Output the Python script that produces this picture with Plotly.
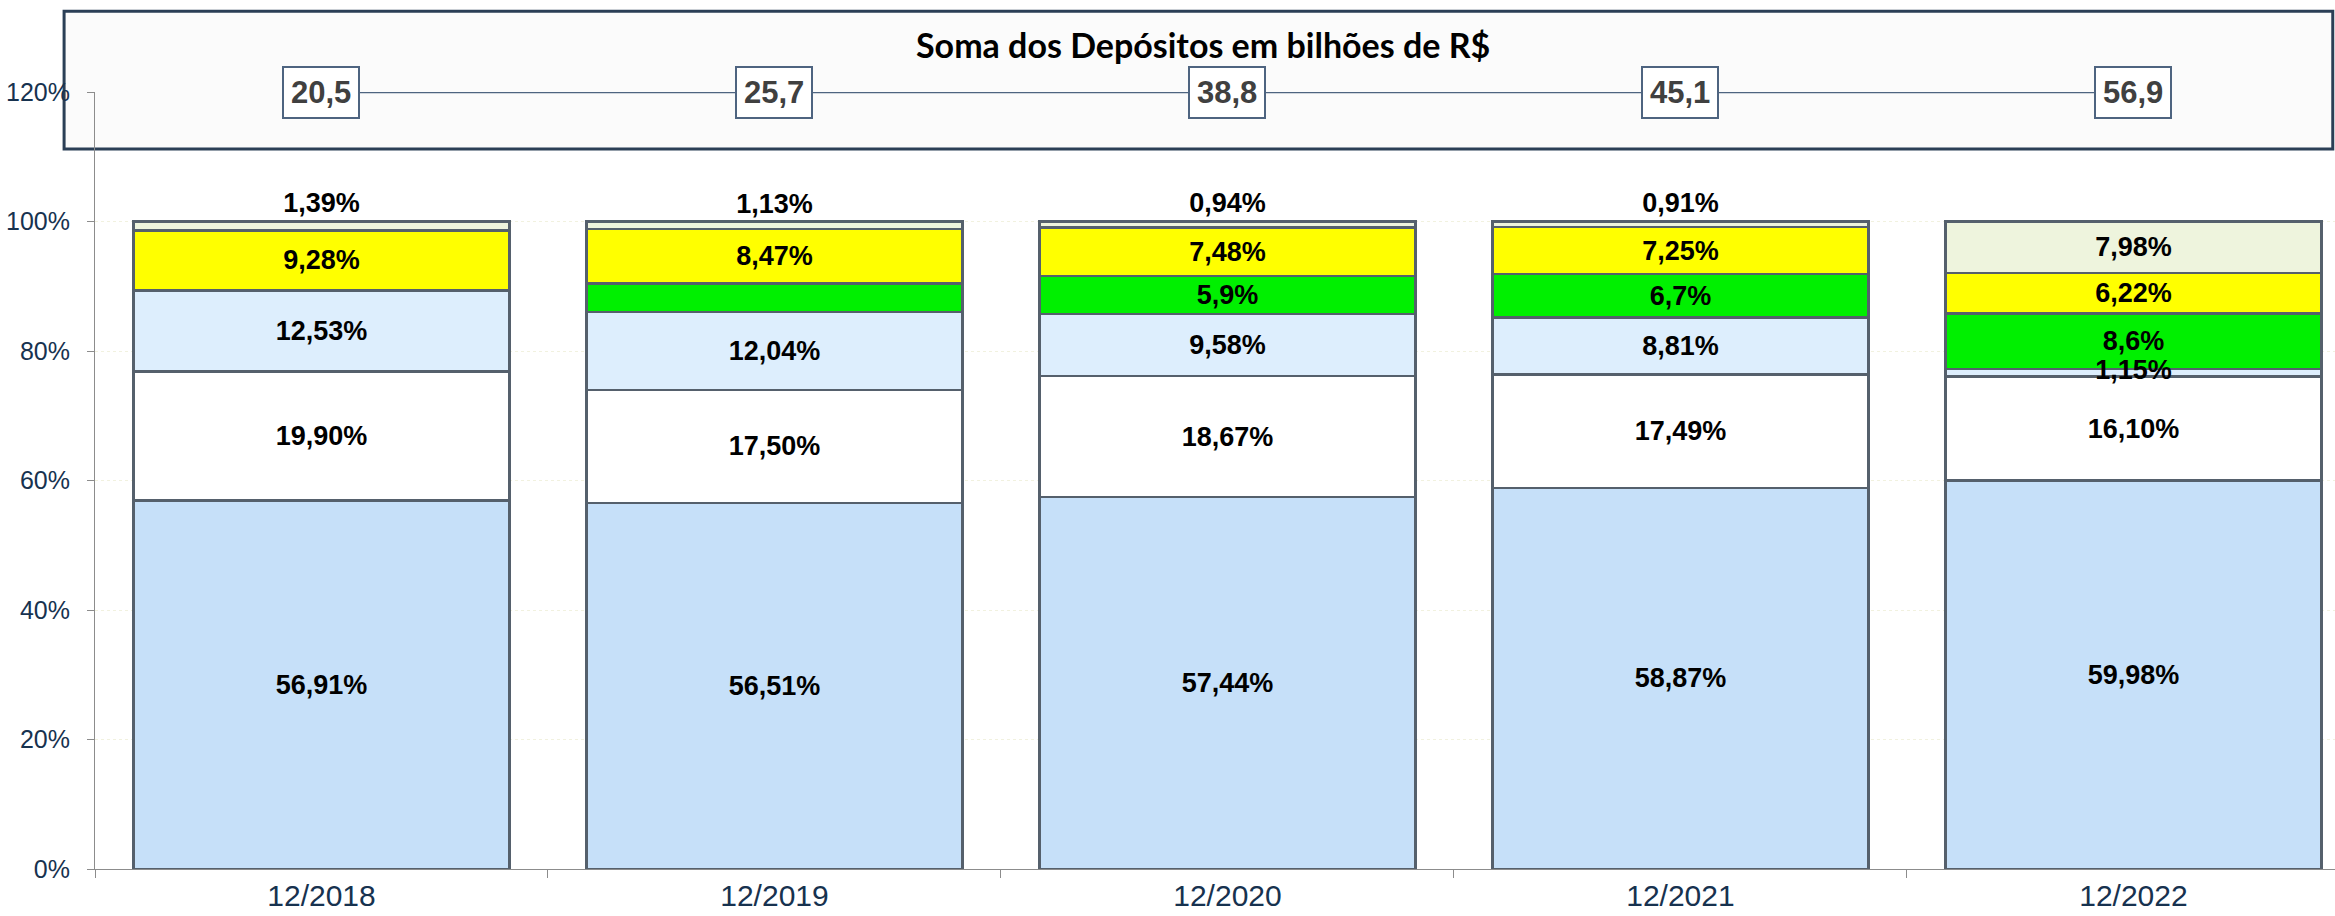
import plotly.graph_objects as go

# ---- data ----
categories = ["12/2018", "12/2019", "12/2020", "12/2021", "12/2022"]

s1_vals = [56.91, 56.51, 57.44, 58.87, 59.98]   # light blue (bottom)
s2_vals = [19.90, 17.50, 18.67, 17.49, 16.10]   # white
s3_vals = [12.53, 12.04, 9.58, 8.81, 1.15]      # pale blue
s4_vals = [None, 4.35, 5.9, 6.7, 8.6]           # green
s5_vals = [9.28, 8.47, 7.48, 7.25, 6.22]        # yellow
s6_vals = [1.39, 1.13, 0.94, 0.91, 7.98]        # pale ivory (top)

s4_labels = ["", "", "5,9%", "6,7%", "8,6%"]

sums_bi = [20.5, 25.7, 38.8, 45.1, 56.9]        # Soma dos Depósitos em bilhões de R$
sum_labels = ["20,5", "25,7", "38,8", "45,1", "56,9"]

y_ticks = [0, 0.2, 0.4, 0.6, 0.8, 1.0, 1.2]
y_tick_labels = ["0%", "20%", "40%", "60%", "80%", "100%", "120%"]

LINE_LEVEL = 1.2  # the sums line sits at the top of the axis (flat, as in the original)


def fmt(v, d=2):
    if v is None:
        return ""
    return f"{v:.{d}f}".replace(".", ",") + "%"


def frac(vals):
    return [None if v is None else v / 100 for v in vals]


EDGE = "#55606C"
LABEL_FONT = dict(family="Liberation Sans, Arial, sans-serif", size=27, color="#000000", weight="bold")

fig = go.Figure()

# the thin 1,15% segment of 12/2022 has its label drawn above the other bars
s3_text = [fmt(v) for v in s3_vals]
s3_text[-1] = ""

series = [
    (s1_vals, [fmt(v) for v in s1_vals], "#C6E0F9"),
    (s2_vals, [fmt(v) for v in s2_vals], "#FFFFFF"),
    (s3_vals, s3_text, "#DDEEFD"),
    (s4_vals, s4_labels, "#00F000"),
    (s5_vals, [fmt(v) for v in s5_vals], "#FFFF00"),
]
for vals, labels, color in series:
    fig.add_trace(go.Bar(
        x=categories, y=frac(vals), text=labels,
        textposition="inside", insidetextanchor="middle", constraintext="none",
        textfont=LABEL_FONT, insidetextfont=LABEL_FONT,
        marker=dict(color=color, line=dict(color=EDGE, width=2.5)),
        width=0.83, showlegend=False, hoverinfo="skip",
    ))

# top segment: labels above thin bars, inside the 2022 bar
fig.add_trace(go.Bar(
    x=categories, y=frac(s6_vals), text=[fmt(v) for v in s6_vals],
    textposition=["outside", "outside", "outside", "outside", "inside"],
    insidetextanchor="middle", constraintext="none",
    textfont=LABEL_FONT, insidetextfont=LABEL_FONT, outsidetextfont=LABEL_FONT,
    marker=dict(color="#EEF4DD", line=dict(color=EDGE, width=2.5)),
    width=0.83, showlegend=False, hoverinfo="skip", cliponaxis=False,
))

# label of the 12/2022 1,15% segment, placed at that segment's middle
mid_2022 = (s1_vals[-1] + s2_vals[-1] + s3_vals[-1] / 2) / 100
fig.add_trace(go.Scatter(
    x=[categories[-1]], y=[mid_2022], mode="text", text=[fmt(s3_vals[-1])],
    textfont=LABEL_FONT, showlegend=False, hoverinfo="skip",
))

# sums line
fig.add_trace(go.Scatter(
    x=categories, y=[LINE_LEVEL] * len(categories), mode="lines",
    line=dict(color="#4E6480", width=2.5), showlegend=False,
    hoverinfo="skip", cliponaxis=False,
))

for c, lab in zip(categories, sum_labels):
    fig.add_annotation(
        x=c, y=LINE_LEVEL, xref="x", yref="y", text=f"<b>{lab}</b>",
        showarrow=False, bgcolor="#FFFFFF", bordercolor="#4E6480", borderwidth=2,
        borderpad=7, font=dict(family="Liberation Sans, Arial, sans-serif", size=31, color="#404040"),
    )

# title box
fig.add_shape(type="rect", xref="paper", yref="paper",
              x0=-0.0138, x1=0.999, y0=0.9266, y1=1.104,
              line=dict(color="#2B3F56", width=3), fillcolor="#FBFBFB", layer="below")

fig.add_annotation(
    x=0.4946, y=1.0605, xref="paper", yref="paper", xanchor="center", yanchor="middle",
    text="<b>Soma dos Depósitos em bilhões de R$</b>", showarrow=False,
    font=dict(family="Lato, Open Sans, sans-serif", size=34, color="#000000"),
)

fig.update_layout(
    width=2335, height=916,
    margin=dict(l=95, r=0, t=92, b=47, autoexpand=False),
    barmode="stack", bargap=0.17,
    paper_bgcolor="#FFFFFF", plot_bgcolor="#FFFFFF",
    showlegend=False,
)
fig.update_xaxes(
    range=[-0.5, 4.445], tickson="boundaries", ticks="outside", ticklen=8,
    tickcolor="#8C8C8C", showline=True, linecolor="#8C8C8C", linewidth=1,
    showgrid=False, automargin=False,
    tickfont=dict(family="Liberation Sans, Arial, sans-serif", size=30, color="#17324F"),
)
fig.update_yaxes(
    range=[0, 1.2], tickvals=y_ticks, ticktext=y_tick_labels,
    ticks="outside", ticklen=7, tickcolor="#8C8C8C",
    showline=True, linecolor="#8C8C8C", linewidth=1,
    showgrid=True, gridcolor="#F1F1DF", griddash="dot", zeroline=False,
    ticklabelstandoff=12, automargin=False,
    tickfont=dict(family="Liberation Sans, Arial, sans-serif", size=25, color="#17324F"),
)

fig.write_html(
    "out.html",
    config={"displayModeBar": False},
    post_script="document.body.style.margin='0';document.body.style.overflow='hidden';",
)
